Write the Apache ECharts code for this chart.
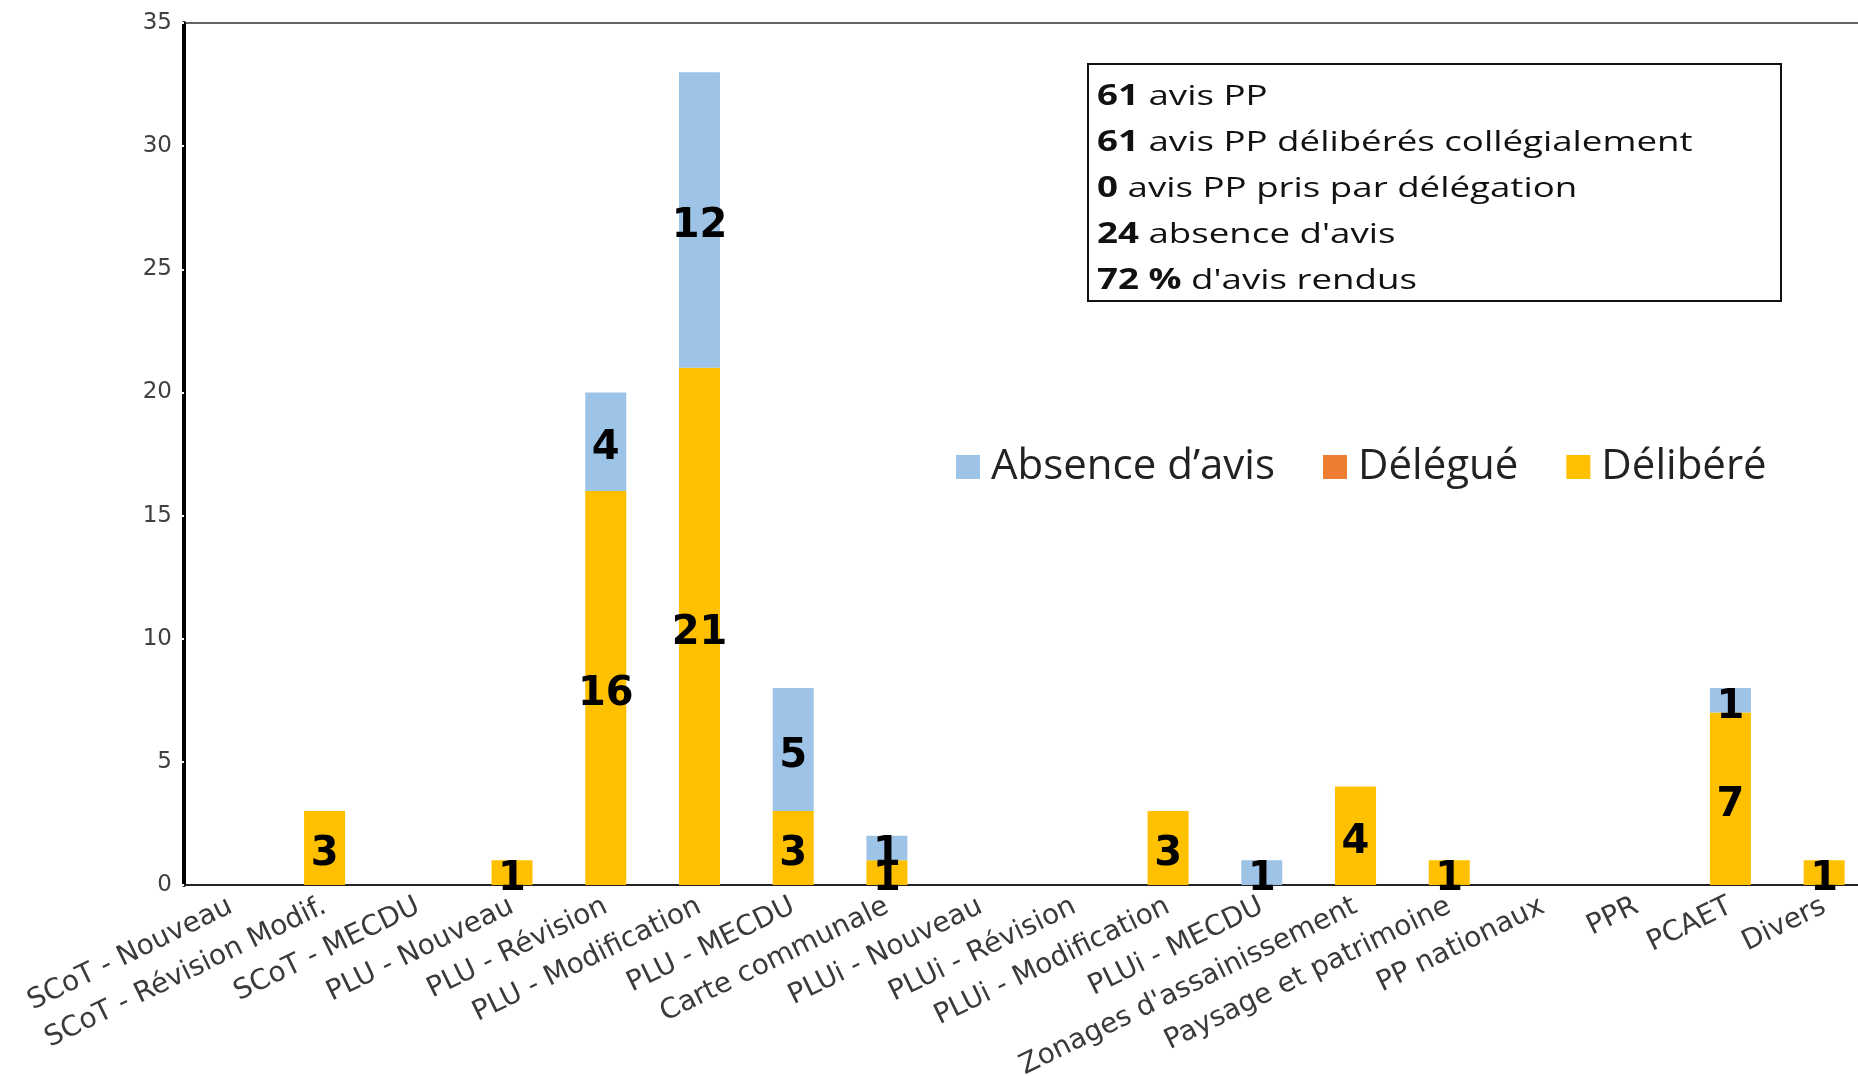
<!DOCTYPE html>
<html>
<head>
<meta charset="utf-8">
<script src="https://cdn.jsdelivr.net/npm/echarts@6/dist/echarts.min.js"></script>
<style>
html,body{margin:0;padding:0;background:#fff;}
#chart{width:1858px;height:1076px;}
</style>
</head>
<body>
<div id="chart"></div>
<script>
const categories = [
  'SCoT - Nouveau', 'SCoT - Révision Modif.', 'SCoT - MECDU', 'PLU - Nouveau',
  'PLU - Révision', 'PLU - Modification', 'PLU - MECDU', 'Carte communale',
  'PLUi - Nouveau', 'PLUi - Révision', 'PLUi - Modification', 'PLUi - MECDU',
  "Zonages d'assainissement", 'Paysage et patrimoine', 'PP nationaux', 'PPR',
  'PCAET', 'Divers'
];
const delibere = [0, 3, 0, 1, 16, 21, 3, 1, 0, 0, 3, 0, 4, 1, 0, 0, 7, 1];
const delegue  = [0, 0, 0, 0, 0, 0, 0, 0, 0, 0, 0, 0, 0, 0, 0, 0, 0, 0];
const absence  = [0, 0, 0, 0, 4, 12, 5, 1, 0, 0, 0, 1, 0, 0, 0, 0, 1, 0];
const summaryLines = [
  ['61', ' avis PP'],
  ['61', ' avis PP délibérés collégialement'],
  ['0', ' avis PP pris par délégation'],
  ['24', " absence d'avis"],
  ['72 %', " d'avis rendus"]
];

const chart = echarts.init(document.getElementById('chart'), null, {renderer: 'canvas'});

const labelCfg = {
  show: true,
  position: 'inside',
  offset: [0, 7],
  color: '#000',
  fontFamily: 'DejaVu Sans',
  fontWeight: 'bold',
  fontSize: 40,
  formatter: p => (p.value ? String(p.value) : '')
};

function mkSeries(name, data, color) {
  return {
    name: name,
    type: 'bar',
    stack: 'total',
    data: data,
    barWidth: 41,
    itemStyle: {color: color},
    label: labelCfg,
    emphasis: {disabled: true}
  };
}

const summaryText = summaryLines.map(l => '{b|' + l[0] + '}{n|' + l[1] + '}').join('\n');

const option = {
  animation: false,
  backgroundColor: '#fff',
  grid: {
    left: 184, top: 23, bottom: 191, width: 1687,
    containLabel: false, outerBoundsMode: 'none',
    show: true, borderColor: '#333', borderWidth: 1.5, backgroundColor: 'transparent'
  },
  legend: {
    data: ["Absence d’avis", 'Délégué', 'Délibéré'],
    left: 951, top: 441,
    itemWidth: 24, itemHeight: 24, itemGap: 48,
    icon: 'rect',
    textStyle: {fontFamily: 'Open Sans', fontSize: 42, color: '#222', lineHeight: 42, padding: [0, 0, 0, 6]}
  },
  xAxis: {
    type: 'category',
    data: categories,
    axisLine: {lineStyle: {color: '#222', width: 2}},
    axisTick: {show: false},
    axisLabel: {
      rotate: 26, interval: 0, margin: 20,
      fontFamily: 'DejaVu Sans', fontSize: 28, color: '#3a3a3a'
    }
  },
  yAxis: {
    type: 'value',
    min: 0, max: 35, interval: 5,
    axisLine: {show: true, lineStyle: {color: '#000', width: 4}},
    axisTick: {show: true, length: 3, lineStyle: {color: '#fff', width: 2}},
    splitLine: {show: false},
    axisLabel: {margin: 12, fontFamily: 'DejaVu Sans', fontSize: 23, color: '#404040'}
  },
  series: [
    mkSeries('Délibéré', delibere, '#FFC000'),
    mkSeries('Délégué', delegue, '#ED7D31'),
    mkSeries("Absence d’avis", absence, '#9DC3E6')
  ],
  graphic: [
    {
      type: 'rect',
      shape: {x: 1088, y: 64, width: 693, height: 237},
      style: {fill: '#fff', stroke: '#111', lineWidth: 2},
      z: 10
    },
    {
      type: 'text',
      x: 1097, y: 74,
      scaleX: 1.31,
      z: 11,
      style: {
        text: summaryText,
        fontFamily: 'Open Sans',
        fontSize: 28,
        lineHeight: 46,
        fill: '#111',
        verticalAlign: 'top',
        rich: {
          b: {fontFamily: 'Open Sans', fontSize: 28, fontWeight: 'bold', fill: '#111', lineHeight: 46},
          n: {fontFamily: 'Open Sans', fontSize: 28, fill: '#111', lineHeight: 46}
        }
      }
    }
  ]
};

chart.setOption(option);
</script>
</body>
</html>
